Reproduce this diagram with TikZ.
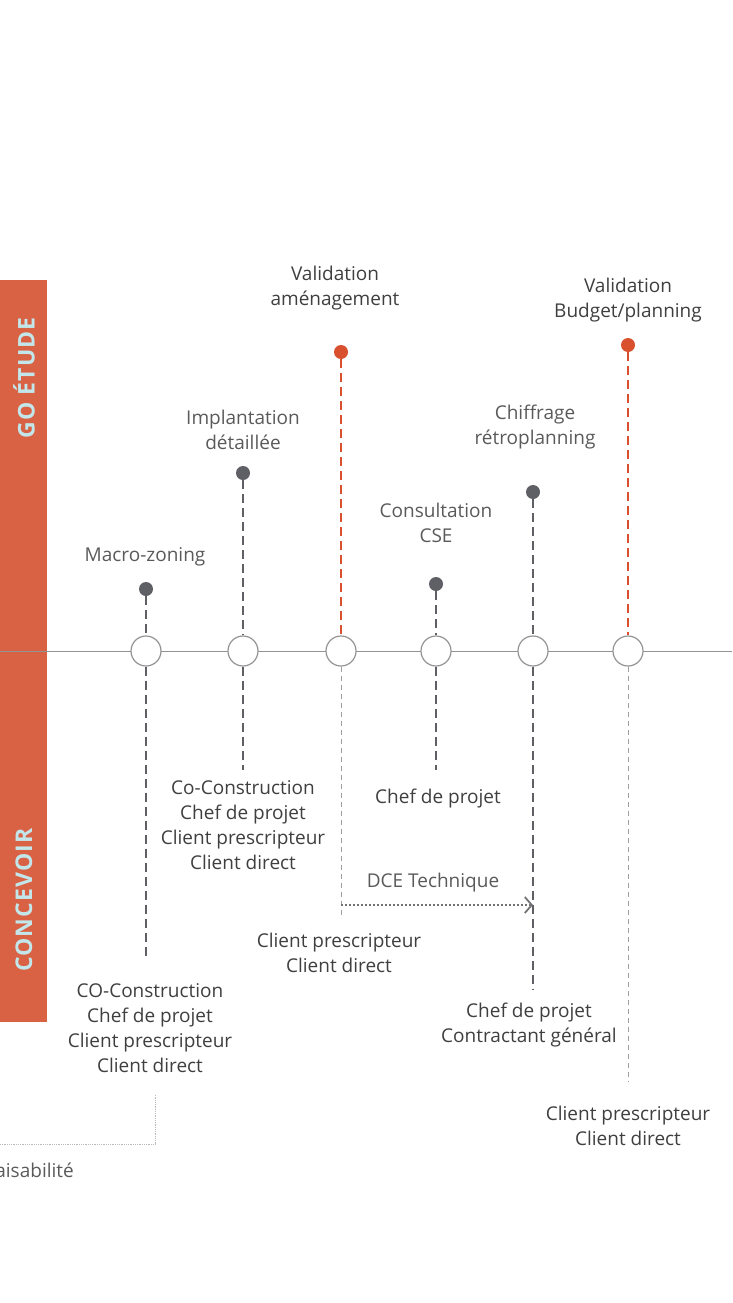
\documentclass[tikz,border=0pt]{standalone}
\usepackage{fontspec}
\setmainfont{Open Sans}
\usetikzlibrary{arrows.meta}
\definecolor{barorange}{HTML}{D96245}
\definecolor{dotorange}{HTML}{D9502F}
\definecolor{dotgray}{HTML}{5F6066}
\definecolor{txtdark}{HTML}{3F3F3F}
\definecolor{txtgray}{HTML}{5A5A5A}
\definecolor{barcyan}{HTML}{C3E6EA}
\tikzset{
  stone/.style={circle,draw=gray!85,fill=white,minimum size=30pt,inner sep=0,line width=1.2pt},
  pin/.style={circle,fill=dotgray,minimum size=14pt,inner sep=0},
  keypin/.style={pin,fill=dotorange},
  stem/.style={draw=dotgray,line width=2.8pt,dash pattern=on 9pt off 5pt},
  keystem/.style={stem,draw=dotorange},
  thinstem/.style={draw=gray!75,line width=1pt,dash pattern=on 5pt off 4pt},
  who/.style={align=center,text=txtdark,inner sep=0},
  step label/.style={align=center,text=txtgray,inner sep=0},
  phase/.style={rotate=90,text=barcyan,font=\fontsize{23}{23}\selectfont\bfseries\addfontfeatures{LetterSpace=5}}
}
\begin{document}
\begin{tikzpicture}[x=1pt,y=-1pt,font=\fontsize{19}{25}\selectfont]
\clip(0,0)rectangle(732,1303);
% phase bar
\fill[barorange](0,280)rectangle(47,1022);
\node[phase](go)at(24,378){GO ÉTUDE};
\node[phase](conc)at(24,900){CONCEVOIR};
% time line
\draw[gray!85,line width=1pt](0,651)--(732,651);
\foreach \n/\x in {1/146,2/243,3/341,4/436,5/533,6/628}{
  \node[stone](s\n)at(\x,651){};
}
% milestones above the line
\node[pin](p1)at(146,589){};
\node[pin](p2)at(243,473){};
\node[keypin](p3)at(341,352){};
\node[pin](p4)at(436,584){};
\node[pin](p5)at(533,492){};
\node[keypin](p6)at(628,345){};
\draw[stem](p1)--(s1);
\draw[stem](p2)--(s2);
\draw[keystem](p3)--(s3);
\draw[stem](p4)--(s4);
\draw[stem](p5)--(s5);
\draw[keystem](p6)--(s6);
\node[step label](m1)at(145,557){Macro-zoning};
\node[step label](m2)at(243,430){Implantation\\détaillée};
\node[who](m3)at(335,288){Validation\\aménagement};
\node[step label](m4)at(436,523){Consultation\\CSE};
\node[step label](m5)at(535,427){Chiffrage\\rétroplanning};
\node[who](m6)at(628,300){Validation\\Budget/planning};
% actors below the line
\coordinate(e1)at(146,960);
\coordinate(e2)at(243,770);
\coordinate(e3)at(341,918);
\coordinate(e4)at(436,770);
\coordinate(e5)at(533,990);
\coordinate(e6)at(628,1082);
\draw[stem](s1)--(e1);
\draw[stem](s2)--(e2);
\draw[thinstem](s3)--(e3);
\draw[stem](s4)--(e4);
\draw[stem](s5)--(e5);
\draw[thinstem](s6)--(e6);
\node[who](a1)at(150,1028){CO-Construction\\Chef de projet\\Client prescripteur\\Client direct};
\node[who](a2)at(243,825){Co-Construction\\Chef de projet\\Client prescripteur\\Client direct};
\node[who](a3)at(339,953){Client prescripteur\\Client direct};
\node[who](a4)at(438,799){Chef de projet};
\node[who](a5)at(529,1025){Chef de projet\\Contractant général};
\node[who](a6)at(628,1126){Client prescripteur\\Client direct};
% DCE hand-over
\coordinate(d1)at(341,905);
\coordinate(d2)at(533,905);
\draw[gray!90!black,line width=2pt,dotted,-{Straight Barb[length=7pt,width=16pt,line width=1.8pt]}](d1)--(d2);
\node[step label](dce)at(433,883){DCE Technique};
% previous phase bracket
\draw[gray!55,densely dotted,line width=0.8pt](0,1144)-|(155,1094);
\node[step label,anchor=east](fais)at(74,1170){Faisabilité};
\end{tikzpicture}
\end{document}
